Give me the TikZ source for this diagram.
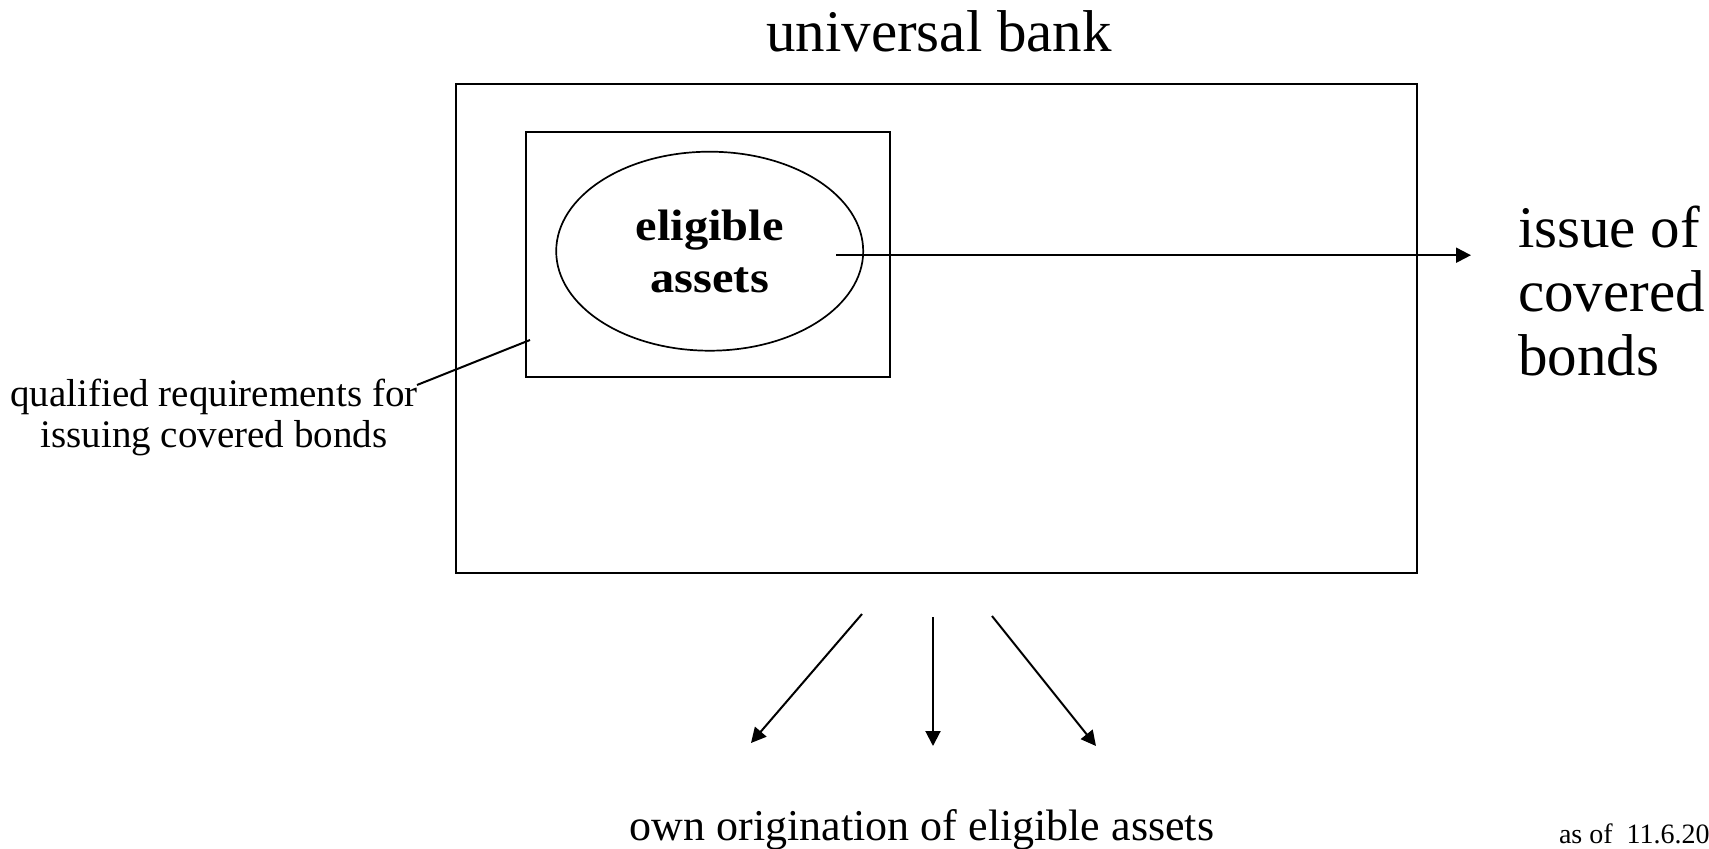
\documentclass[tikz,border=0pt]{standalone}
\usepackage{fontspec}
\setmainfont{Liberation Serif}
\newfontfamily\widefont{Liberation Serif}[FakeStretch=1.1]
\usetikzlibrary{arrows.meta,shapes.geometric}
\begin{document}
\begin{tikzpicture}[x=1pt,y=-1pt,
  txt/.style={inner sep=0pt, outer sep=0pt},
  frame/.style={draw, line width=2pt, inner sep=0pt, outer sep=0pt},
  arr/.style={line width=2pt, -{Triangle[length=15pt,width=15pt]}},
  lead/.style={line width=2pt}]
\useasboundingbox (0,0) rectangle (1709,849);
% title
\node[txt, anchor=base, font=\fontsize{59}{64}\selectfont] (title) at (939,51) {universal bank};
% outer and inner boxes
\node[frame, minimum width=961.5pt, minimum height=489pt] (bank) at (936.25,328.5) {};
\node[frame, minimum width=364pt, minimum height=245pt] (req) at (708,254.2) {};
\node[draw, ellipse, line width=1.7pt, inner sep=0pt, minimum width=307pt, minimum height=199pt,
      align=center, font=\widefont\bfseries\fontsize{44}{52}\selectfont] (ell) at (709.7,251.2) {eligible\\assets};
% right text
\node[txt, align=left, anchor=base west, font=\fontsize{59}{64}\selectfont] (iss) at (1518,375) {issue of\\covered\\bonds};
% left text
\node[txt, align=center, anchor=base, font=\fontsize{39}{41}\selectfont] (qual) at (214,447) {qualified requirements for\\issuing covered bonds};
% bottom text
\node[txt, anchor=base, font=\fontsize{44}{50}\selectfont] (orig) at (922,840) {own origination of eligible assets};
% date
\node[txt, anchor=base west, font=\fontsize{28}{32}\selectfont] (date) at (1559,843) {as of\ \ 11.6.20};
% connectors
\coordinate (src) at ([shift={(-28,4)}]ell.east);
\draw[arr, shorten >=47pt] (src) -- (src -| iss.west);
\coordinate (q1) at (417,385);
\coordinate (q2) at (530,340);
\draw[lead] (q1) -- (q2);
\coordinate (a1s) at (862,614); \coordinate (a1e) at (751,743);
\coordinate (a2s) at (933,617); \coordinate (a2e) at (933,746);
\coordinate (a3s) at (992,616); \coordinate (a3e) at (1096,746);
\draw[arr] (a1s) -- (a1e);
\draw[arr] (a2s) -- (a2e);
\draw[arr] (a3s) -- (a3e);
\end{tikzpicture}
\end{document}
